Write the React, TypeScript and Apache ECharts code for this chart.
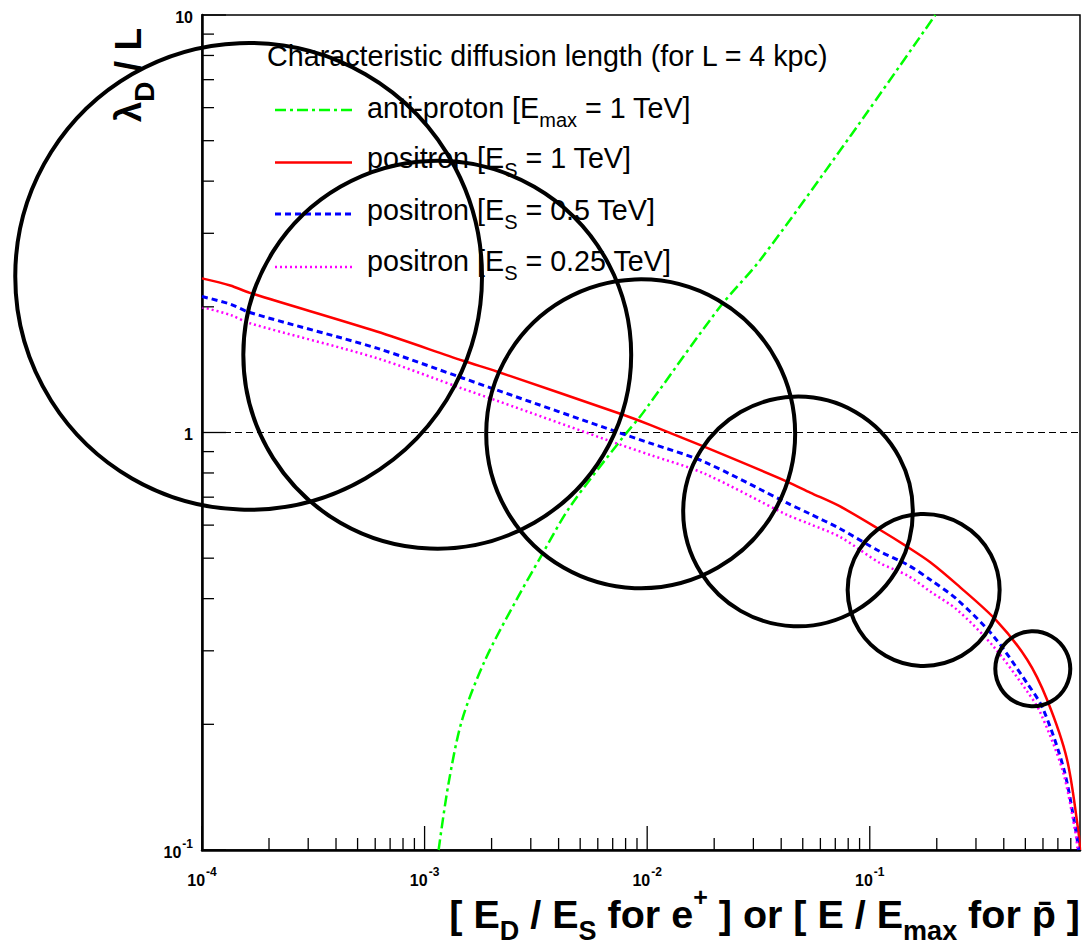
import React, { useEffect, useRef } from "react";
import * as echarts from "echarts";

const FONT = '"Liberation Sans", Arial, Helvetica, sans-serif';

// Axis ranges (log-log)
const xRange = [1e-4, 0.88];
const yRange = [0.1, 10];
const xDecades = [1e-4, 1e-3, 1e-2, 1e-1];
const yDecades = [0.1, 1, 10];
const minorSteps = [2, 3, 4, 5, 6, 7, 8, 9];

// Characteristic diffusion length lambda_D / L versus energy ratio
const antiProton: [number, number][] = [
  [1.156e-3, 0.1], [1.28e-3, 0.144], [1.474e-3, 0.205], [1.87e-3, 0.285],
  [2.59e-3, 0.398], [3.3e-3, 0.5], [4.51e-3, 0.665], [7.83e-3, 0.978],
  [9.3e-3, 1.092], [1.03e-2, 1.176], [2.13e-2, 2.003], [3.22e-2, 2.59],
  [8.25e-2, 5.16], [0.197, 10],
];

const positron1TeV: [number, number][] = [
  [1e-4, 2.34], [1.34e-4, 2.25], [1.64e-4, 2.16], [6.1e-4, 1.745],
  [1.49e-3, 1.485], [2.11e-3, 1.4], [7.57e-3, 1.109], [1.03e-2, 1.043],
  [1.79e-2, 0.926], [4.25e-2, 0.763], [5.4e-2, 0.718], [7.36e-2, 0.665],
  [0.111, 0.585], [0.147, 0.533], [0.187, 0.489], [0.247, 0.432],
  [0.37, 0.355], [0.509, 0.286], [0.626, 0.229], [0.769, 0.165],
  [0.867, 0.11], [0.88, 0.1],
];

const positron05TeV: [number, number][] = [
  [1e-4, 2.117], [1.34e-4, 2.03], [1.64e-4, 1.938], [6.1e-4, 1.592],
  [1.49e-3, 1.349], [2.11e-3, 1.264], [7.57e-3, 0.997], [1.03e-2, 0.943],
  [1.79e-2, 0.852], [4.25e-2, 0.678], [5.4e-2, 0.638], [7.36e-2, 0.588],
  [0.111, 0.519], [0.147, 0.483], [0.187, 0.444], [0.247, 0.398],
  [0.36, 0.325], [0.509, 0.251], [0.6, 0.218], [0.745, 0.156],
  [0.841, 0.112], [0.868, 0.1],
];

const positron025TeV: [number, number][] = [
  [1e-4, 1.996], [1.34e-4, 1.913], [1.64e-4, 1.827], [6.1e-4, 1.507],
  [1.49e-3, 1.272], [2.11e-3, 1.192], [7.57e-3, 0.935], [1.03e-2, 0.884],
  [1.79e-2, 0.799], [4.25e-2, 0.635], [5.4e-2, 0.603], [7.36e-2, 0.562],
  [0.111, 0.487], [0.147, 0.455], [0.187, 0.416], [0.247, 0.376],
  [0.36, 0.307], [0.509, 0.24], [0.58, 0.215], [0.735, 0.155],
  [0.84, 0.11], [0.858, 0.1],
];

const unityLevel = 1;

// Diffusion spheres: centre (x, y) and radius in decades of lambda_D / L
const circleX = [1.62e-4, 1.14e-3, 9.35e-3, 0.0476, 0.1746, 0.54];
const circleY = [2.366, 1.535, 0.993, 0.647, 0.4195, 0.2716];
const circleRadiusDecades = [0.559, 0.4645, 0.37, 0.275, 0.182, 0.0898];

const legendTitle = "Characteristic diffusion length (for L = 4 kpc)";
const legendLabels = [
  "{m|anti-proton [E}{s|max}{m| = 1 TeV]}",
  "{m|positron [E}{s|S}{m| = 1 TeV]}",
  "{m|positron [E}{s|S}{m| = 0.5 TeV]}",
  "{m|positron [E}{s|S}{m| = 0.25 TeV]}",
];
const xTitle = "{m|[ E}{s|D}{m| / E}{s|S}{m| for e}{p|+}{m| ] or [ E / E}{s|max}{m| for p\u0304 ]}";
const yTitle = "{m|\u03bb}{s|D}{m| / L}";

const curveStyles = [
  { color: "#00ff00", width: 2.5, dash: [11, 4, 3, 4] as number[] | null },
  { color: "#ff0000", width: 2.5, dash: null },
  { color: "#0000ff", width: 3, dash: [6, 4] },
  { color: "#ff00ff", width: 2.5, dash: [2, 3] },
];

function minorTicks(decades: number[], lo: number, hi: number) {
  const out: number[] = [];
  decades.forEach((d) =>
    minorSteps.forEach((m) => {
      const v = d * m;
      if (v > lo && v < hi) out.push(v);
    })
  );
  return out;
}

// Tick label parts for 10^n: base text and exponent text ("" when none)
function powerParts(v: number): [string, string] {
  const r = Math.round(Math.log10(v));
  if (r === 0) return ["1", ""];
  if (r === 1) return ["10", ""];
  return ["10", String(r)];
}

const BASE_SIZE = 16;
const EXP_SIZE = 12;
// approximate advance widths of bold sans digits / minus sign
const textWidth = (s: string, size: number) =>
  s.split("").reduce((w, ch) => w + (ch === "-" ? 0.333 : 0.556) * size, 0);

function textEl(text: string, x: number, y: number, size: number) {
  return {
    type: "text",
    x,
    y,
    style: {
      text,
      font: `bold ${size}px ${FONT}`,
      fontSize: size,
      fontWeight: "bold",
      fontFamily: FONT,
      fill: "#000",
      textFill: "#000",
      align: "left",
      textAlign: "left",
      verticalAlign: "middle",
      textVerticalAlign: "middle",
    },
  };
}

function labelElements(v: number, anchorX: number, centreY: number, align: "center" | "right") {
  const [base, exp] = powerParts(v);
  const wb = textWidth(base, BASE_SIZE);
  const we = exp ? textWidth(exp, EXP_SIZE) + 1 : 0;
  const left = align === "center" ? anchorX - (wb + we) / 2 : anchorX - wb - we;
  const els: any[] = [textEl(base, left, centreY, BASE_SIZE)];
  if (exp) els.push(textEl(exp, left + wb + 1, centreY - 8, EXP_SIZE));
  return els;
}

export default function App() {
  const ref = useRef<HTMLDivElement>(null);

  useEffect(() => {
    if (!ref.current) return;
    const chart = echarts.init(ref.current, undefined, { renderer: "svg" });

    const xMinor = minorTicks([1e-4, 1e-3, 1e-2, 1e-1], xRange[0], xRange[1]);
    const yMinor = minorTicks([0.1, 1], yRange[0], yRange[1]);
    const xTickData = [
      ...xDecades.map((v) => [v, yRange[0], 1]),
      ...xMinor.map((v) => [v, yRange[0], 0]),
    ];
    const yTickData = [
      ...yDecades.map((v) => [xRange[0], v, 1]),
      ...yMinor.map((v) => [xRange[0], v, 0]),
    ];
    const circleData = circleX.map((x, i) => [x, circleY[i], circleRadiusDecades[i]]);

    const curves = [antiProton, positron1TeV, positron05TeV, positron025TeV];
    const curveNames = ["anti-proton", "positron 1 TeV", "positron 0.5 TeV", "positron 0.25 TeV"];

    const legendSampleY = [110, 162.5, 214, 267];
    const legendTextTop = [85.5, 135.5, 187.5, 239];

    const legendRich = {
      m: { fontSize: 28.7, fontFamily: FONT, fill: "#000", lineHeight: 44 },
      s: { fontSize: 20, fontFamily: FONT, fill: "#000", lineHeight: 20, verticalAlign: "bottom" },
    };

    const plainAxis = {
      axisLine: { show: true, onZero: false, lineStyle: { color: "#000", width: 2.5 } },
      axisTick: { show: false },
      minorTick: { show: false },
      splitLine: { show: false },
      axisLabel: { show: false },
    };

    const option: any = {
      animation: false,
      backgroundColor: "#fff",
      grid: {
        left: 202,
        top: 15,
        width: 878,
        height: 835,
        show: true,
        borderColor: "#000",
        borderWidth: 1.5,
        backgroundColor: "transparent",
        containLabel: false,
      },
      xAxis: { type: "log", logBase: 10, min: xRange[0], max: xRange[1], ...plainAxis },
      yAxis: { type: "log", logBase: 10, min: yRange[0], max: yRange[1], ...plainAxis },
      series: [
        ...curves.map((data, i) => ({
          type: "line",
          name: curveNames[i],
          data,
          showSymbol: false,
          symbol: "none",
          smooth: 0.3,
          clip: true,
          silent: true,
          z: 3,
          lineStyle: {
            color: curveStyles[i].color,
            width: curveStyles[i].width,
            type: curveStyles[i].dash ?? "solid",
            join: "round",
          },
        })),
        {
          type: "line",
          name: "unity",
          data: [
            [xRange[0], unityLevel],
            [xRange[1], unityLevel],
          ],
          showSymbol: false,
          symbol: "none",
          silent: true,
          z: 2,
          lineStyle: { color: "#000", width: 1, type: [7, 4] },
        },
        {
          type: "custom",
          name: "x ticks",
          data: xTickData,
          encode: { x: 0, y: 1 },
          silent: true,
          clip: false,
          z: 4,
          renderItem: (_p: any, api: any) => {
            const v = api.value(0);
            const pt = api.coord([v, api.value(1)]);
            const major = !!api.value(2);
            const len = major ? 24 : 12;
            const children: any[] = [
              {
                type: "line",
                shape: { x1: pt[0], y1: pt[1], x2: pt[0], y2: pt[1] - len },
                style: { stroke: "#000", lineWidth: 1.3 },
              },
            ];
            if (major) children.push(...labelElements(v, pt[0], pt[1] + 30, "center"));
            return { type: "group", children };
          },
        },
        {
          type: "custom",
          name: "y ticks",
          data: yTickData,
          encode: { x: 0, y: 1 },
          silent: true,
          clip: false,
          z: 4,
          renderItem: (_p: any, api: any) => {
            const v = api.value(1);
            const pt = api.coord([api.value(0), v]);
            const major = !!api.value(2);
            const len = major ? 24 : 12;
            const children: any[] = [
              {
                type: "line",
                shape: { x1: pt[0], y1: pt[1], x2: pt[0] + len, y2: pt[1] },
                style: { stroke: "#000", lineWidth: 1.3 },
              },
            ];
            if (major) children.push(...labelElements(v, pt[0] - 9, pt[1] + 2, "right"));
            return { type: "group", children };
          },
        },
        {
          type: "custom",
          name: "diffusion spheres",
          data: circleData,
          encode: { x: 0, y: 1 },
          silent: true,
          clip: false,
          z: 5,
          renderItem: (_p: any, api: any) => {
            const x = api.value(0);
            const y = api.value(1);
            const c = api.coord([x, y]);
            const top = api.coord([x, y * Math.pow(10, api.value(2))]);
            return {
              type: "circle",
              shape: { cx: c[0], cy: c[1], r: c[1] - top[1] },
              style: { fill: "none", stroke: "#000", lineWidth: 4 },
            };
          },
        },
      ],
      graphic: [
        {
          type: "text",
          x: 267,
          y: 55.5,
          silent: true,
          style: {
            text: legendTitle,
            fontSize: 28.7,
            fontFamily: FONT,
            fill: "#000",
            align: "left",
            verticalAlign: "middle",
          },
        },
        ...curveStyles.map((s, i) => ({
          type: "line",
          silent: true,
          shape: { x1: 275, y1: legendSampleY[i], x2: 352, y2: legendSampleY[i] },
          style: { stroke: s.color, lineWidth: s.width, lineDash: s.dash ?? undefined },
        })),
        ...legendLabels.map((t, i) => ({
          type: "text",
          x: 367,
          y: legendTextTop[i],
          silent: true,
          style: {
            text: t,
            rich: legendRich,
            align: "left",
            verticalAlign: "top",
          },
        })),
        {
          type: "text",
          x: 1080,
          y: 884,
          silent: true,
          style: {
            text: xTitle,
            align: "right",
            verticalAlign: "top",
            rich: {
              m: { fontSize: 39.5, fontWeight: "bold", fontFamily: FONT, fill: "#000", lineHeight: 60 },
              s: { fontSize: 27, fontWeight: "bold", fontFamily: FONT, fill: "#000", lineHeight: 27, verticalAlign: "bottom" },
              p: { fontSize: 25, fontWeight: "bold", fontFamily: FONT, fill: "#000", lineHeight: 28, verticalAlign: "top" },
            },
          },
        },
        {
          type: "text",
          x: 98,
          y: 28,
          rotation: Math.PI / 2,
          silent: true,
          style: {
            text: yTitle,
            align: "right",
            verticalAlign: "top",
            rich: {
              m: { fontSize: 37, fontWeight: "bold", fontFamily: FONT, fill: "#000", lineHeight: 60 },
              s: { fontSize: 28, fontWeight: "bold", fontFamily: FONT, fill: "#000", lineHeight: 28, verticalAlign: "bottom" },
            },
          },
        },
      ],
    };

    chart.setOption(option);
    return () => chart.dispose();
  }, []);

  return (
    <div
      ref={ref}
      style={{ position: "absolute", left: 0, top: 0, width: 1088, height: 946, background: "#fff" }}
    />
  );
}
